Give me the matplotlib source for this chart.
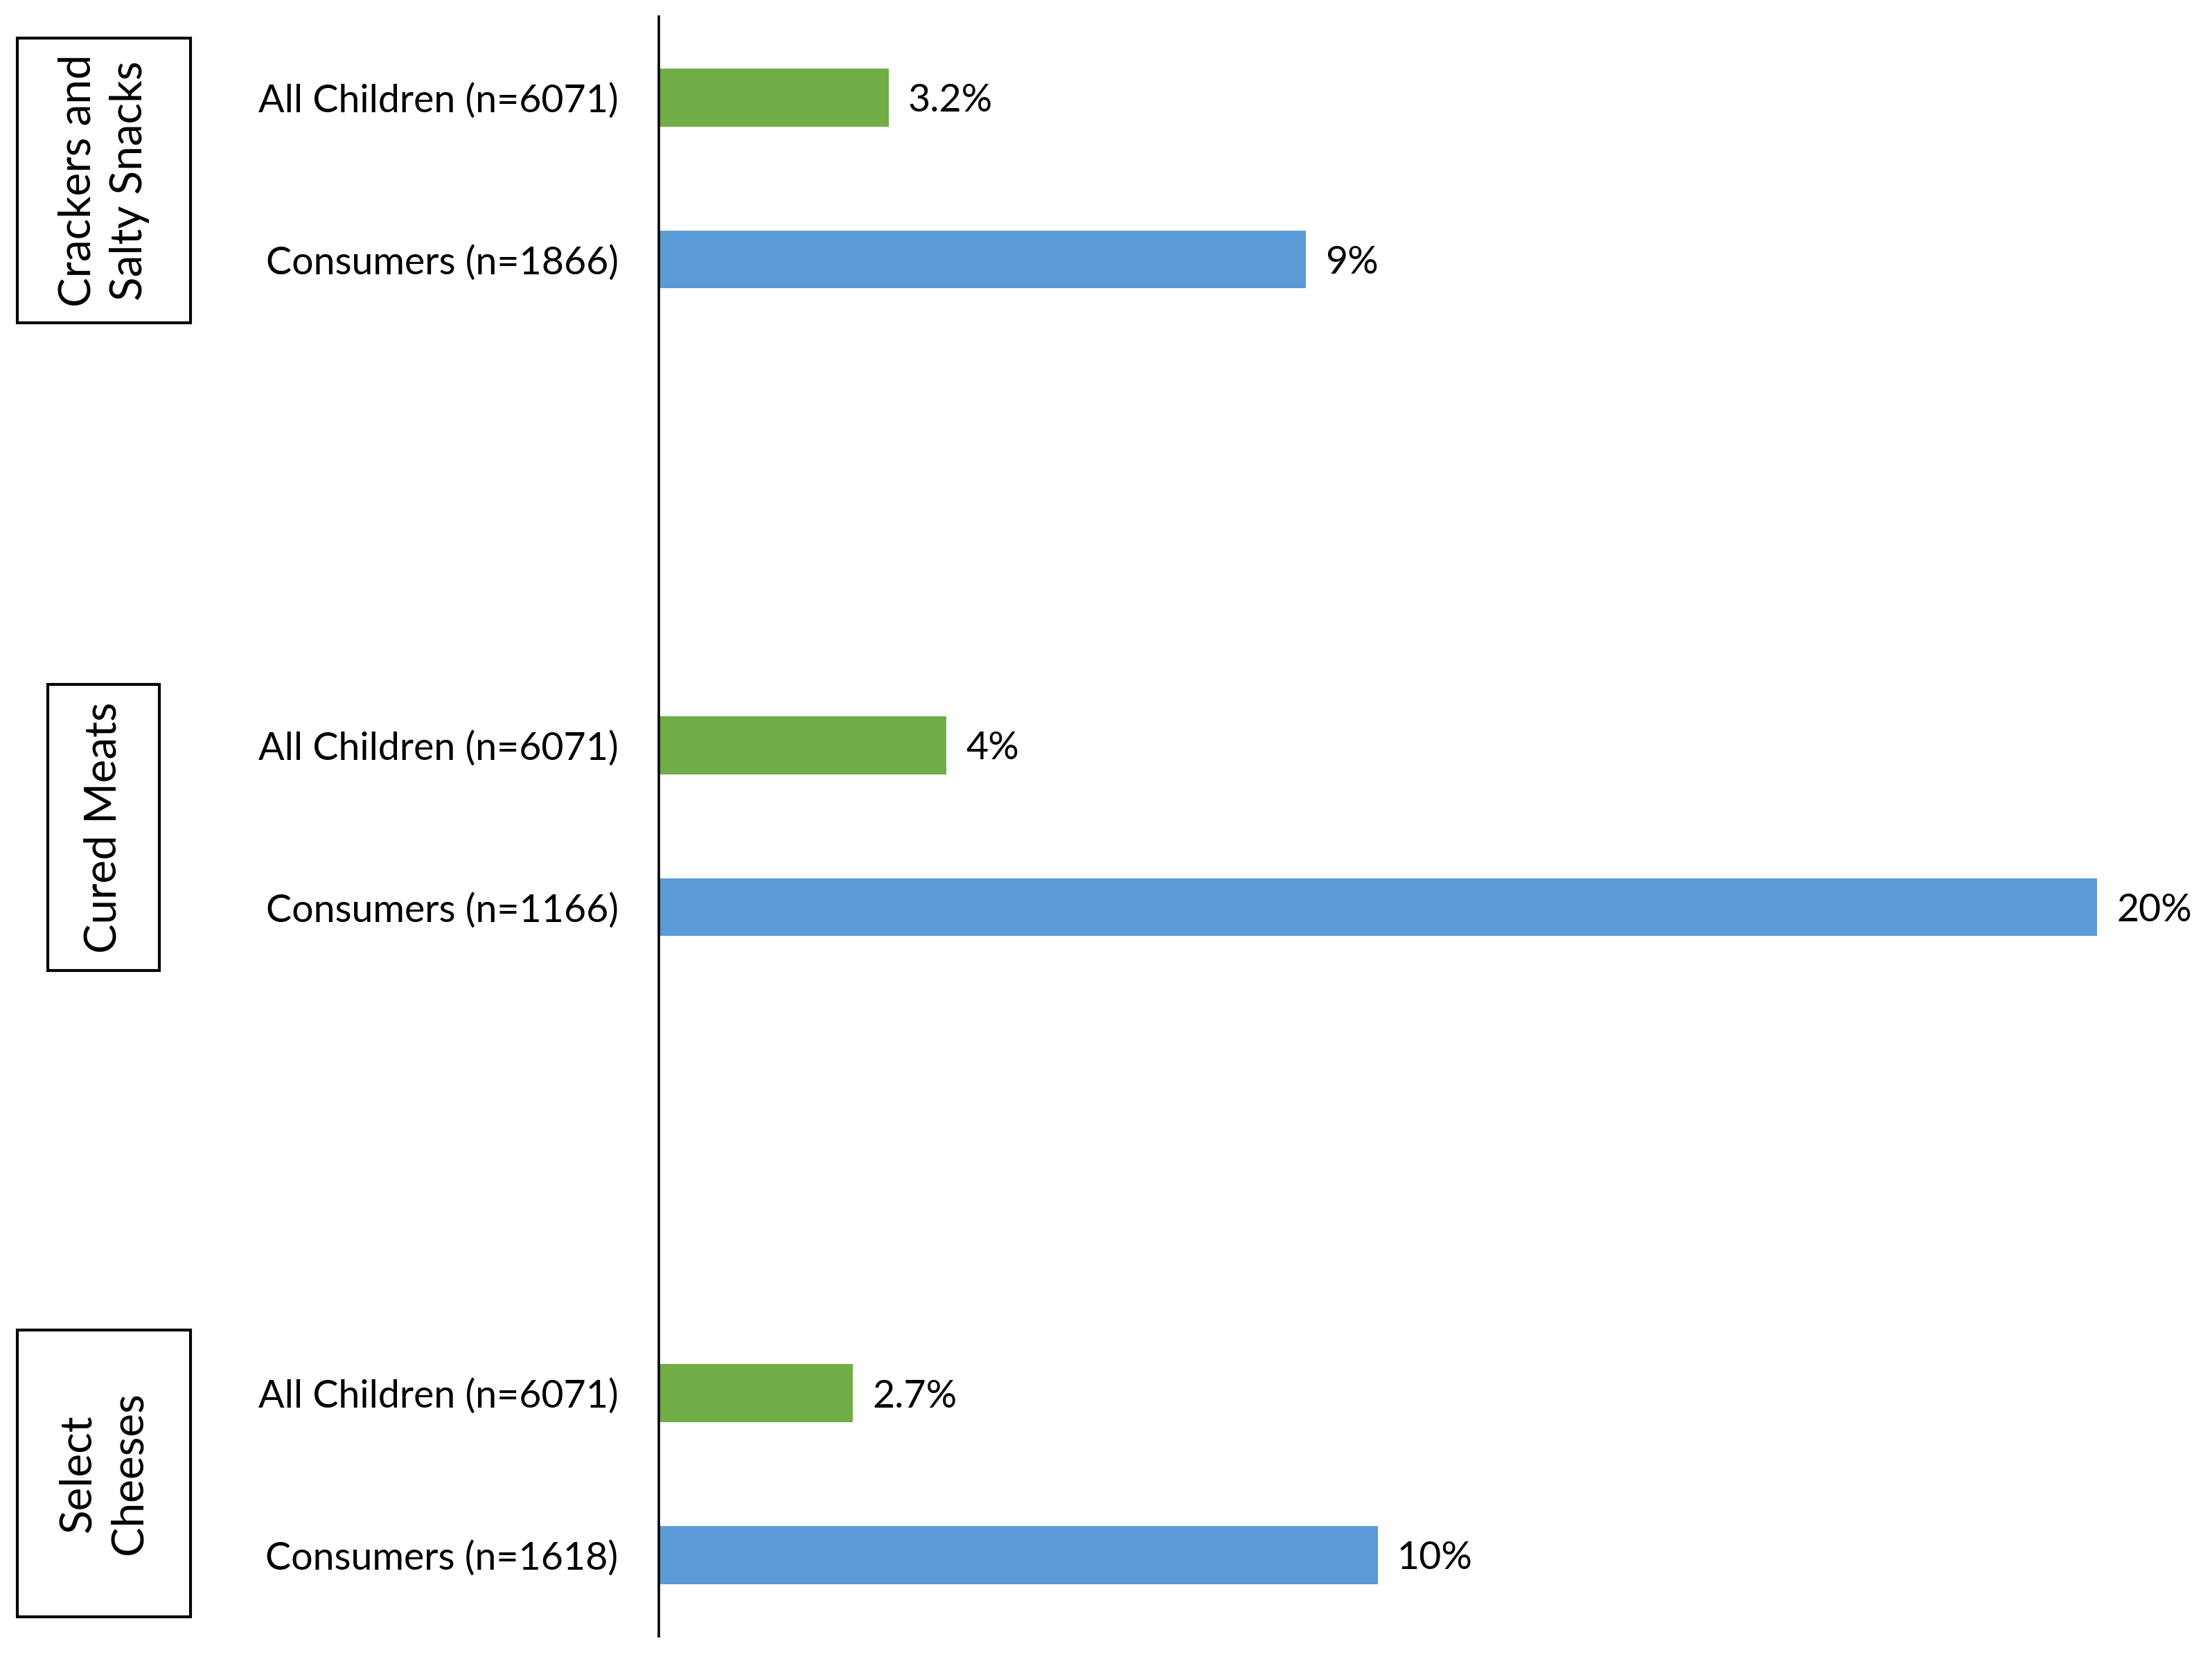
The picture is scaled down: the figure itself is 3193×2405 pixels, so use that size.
import numpy as np
import matplotlib.pyplot as plt
from matplotlib.patches import Rectangle

# data
groups = ["Crackers and\nSalty Snacks", "Cured Meats", "Select\nCheeses"]
row_labels = ["All Children (n=6071)", "Consumers (n=1866)",
              "All Children (n=6071)", "Consumers (n=1166)",
              "All Children (n=6071)", "Consumers (n=1618)"]
values = [3.2, 9, 4, 20, 2.7, 10]
value_labels = ["3.2%", "9%", "4%", "20%", "2.7%", "10%"]
colors = ["#70AD47", "#5B9BD5"] * 3

plt.rcParams['font.family'] = ['Lato', 'DejaVu Sans']

fig = plt.figure(figsize=(15.965, 12.025), dpi=200)
ax = fig.add_axes([0.2978, 0.018, 0.7022, 0.972])

pos = np.array([0, 1, 4, 5, 8, 9])
ax.barh(pos, values, height=0.357, color=colors)
ax.set_ylim(9.5, -0.5)
ax.set_xlim(0, 21.6)

for p, v, t in zip(pos, values, value_labels):
    ax.text(v + 0.27, p, t, va='center_baseline', ha='left', fontsize=20)

ax.set_yticks(pos)
ax.set_yticklabels(row_labels, fontsize=20)
ax.tick_params(axis='y', length=0, pad=21)
ax.set_xticks([])
for s in ['top', 'right', 'bottom']:
    ax.spines[s].set_visible(False)
ax.spines['left'].set_linewidth(1.3)

# group label boxes (figure fractions: x0, width, y0, height)
boxes = [(0.0077, 0.0784, 0.8061, 0.1710),
         (0.0217, 0.0504, 0.4174, 0.1719),
         (0.0077, 0.0784, 0.0296, 0.1719)]
for g, (bx, bw, by, bh) in zip(groups, boxes):
    fig.patches.append(Rectangle((bx, by), bw, bh, transform=fig.transFigure,
                                 fill=False, ec='black', lw=1.5))
    fig.text(bx + bw / 2, by + bh / 2, g, rotation=90, ha='center', va='center',
             fontsize=23, linespacing=1.35, multialignment='center')

fig.savefig('out.png', dpi=200)
